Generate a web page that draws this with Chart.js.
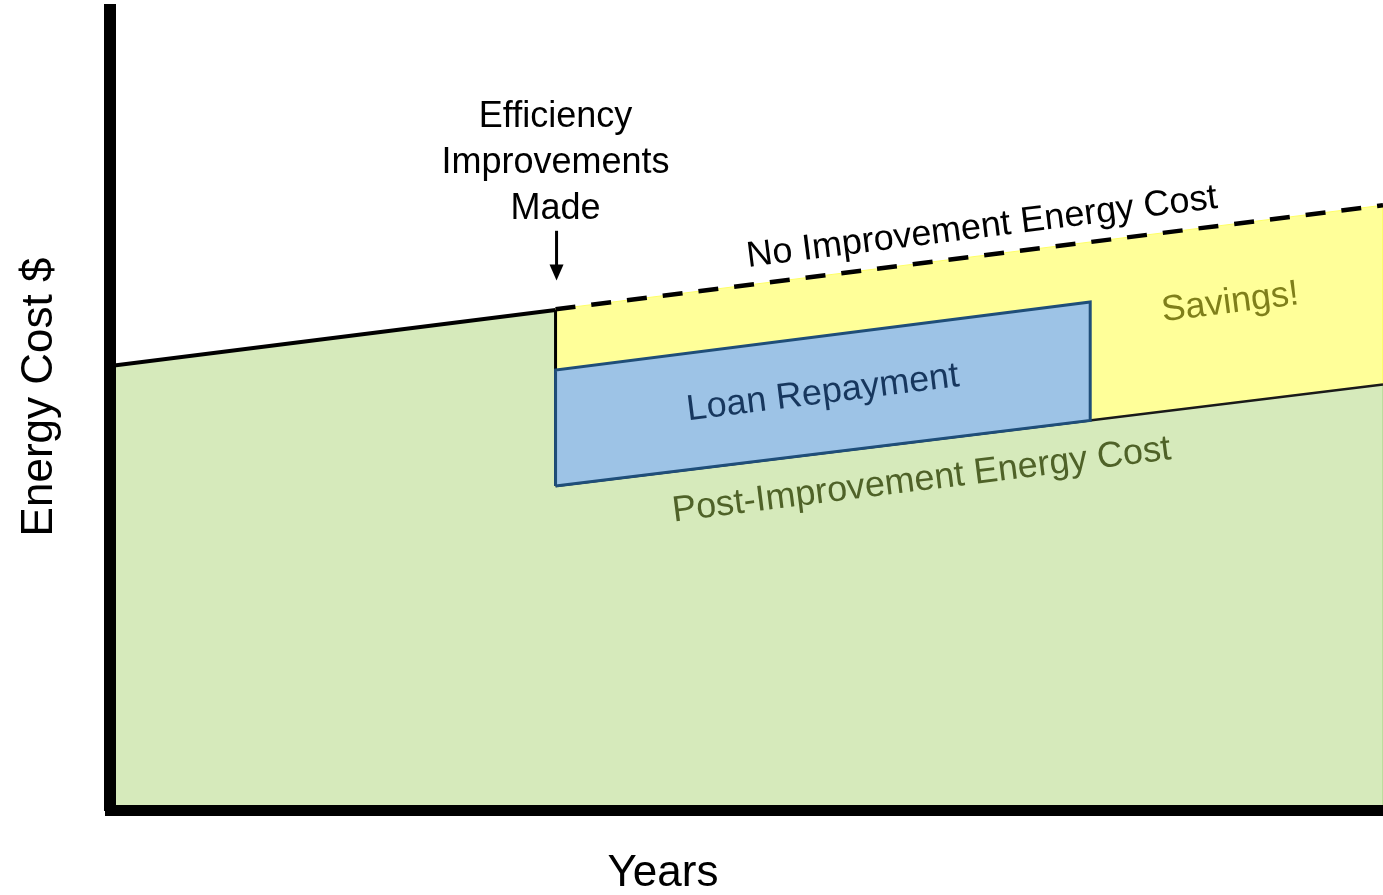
<!DOCTYPE html>
<html>
<head>
<meta charset="utf-8">
<script src="https://cdn.jsdelivr.net/npm/chart.js@4.4.1/dist/chart.umd.min.js"></script>
<style>
html, body { margin: 0; padding: 0; background: #fff; }
</style>
</head>
<body>
<canvas id="graph" width="1383" height="895"></canvas>
<script>
// Values (x = years, y = relative energy cost)
const yearsBefore = [0, 7];
const costBefore = [55.5, 62.5];
const yearsAfter = [7, 20];
const noImprovementCost = [62.6, 75.6];
const postImprovementCost = [40.5, 53.2];
const loanYears = [7, 15.4];
const loanTop = [55, 63.5];
const loanBottom = [40.5, 48.7];

// Text notes placed in data units
const notes = [
    { text: 'Efficiency', x: 7, y: 86.6, color: '#000', tilt: false },
    { text: 'Improvements', x: 7, y: 80.9, color: '#000', tilt: false },
    { text: 'Made', x: 7, y: 75.1, color: '#000', tilt: false },
    { text: 'No Improvement Energy Cost', x: 13.7, y: 72.8, color: '#000', tilt: true },
    { text: 'Loan Repayment', x: 11.2, y: 52.1, color: '#17375e', tilt: true },
    { text: 'Savings!', x: 17.6, y: 63.4, color: '#7f7f1a', tilt: true },
    { text: 'Post-Improvement Energy Cost', x: 12.75, y: 41.2, color: '#4f6228', tilt: true }
];

const pt = (x, y) => ({ x: x, y: y });

// Polygons built from the arrays above
const greenShape = [
    pt(yearsBefore[0], 0),
    pt(yearsBefore[0], costBefore[0]),
    pt(yearsBefore[1], costBefore[1]),
    pt(yearsAfter[0], postImprovementCost[0]),
    pt(yearsAfter[1], postImprovementCost[1]),
    pt(yearsAfter[1], 0),
    pt(yearsBefore[0], 0)
];
const yellowShape = [
    pt(yearsAfter[0], noImprovementCost[0]),
    pt(yearsAfter[1], noImprovementCost[1]),
    pt(yearsAfter[1], postImprovementCost[1]),
    pt(yearsAfter[0], postImprovementCost[0]),
    pt(yearsAfter[0], noImprovementCost[0])
];
const loanShape = [
    pt(loanYears[0], loanBottom[0]),
    pt(loanYears[0], loanTop[0]),
    pt(loanYears[1], loanTop[1]),
    pt(loanYears[1], loanBottom[1]),
    pt(loanYears[0], loanBottom[0])
];

const font = '"Liberation Sans", Arial, sans-serif';

const annotate = {
    id: 'annotate',
    afterDatasetsDraw(chart) {
        const { ctx, scales: { x, y } } = chart;
        const ang = Math.atan2(
            y.getPixelForValue(noImprovementCost[1]) - y.getPixelForValue(noImprovementCost[0]),
            x.getPixelForValue(yearsAfter[1]) - x.getPixelForValue(yearsAfter[0])
        );
        ctx.save();
        ctx.textAlign = 'center';
        ctx.textBaseline = 'middle';
        ctx.font = '36px ' + font;
        notes.forEach(n => {
            ctx.save();
            ctx.translate(x.getPixelForValue(n.x), y.getPixelForValue(n.y));
            if (n.tilt) ctx.rotate(ang);
            ctx.fillStyle = n.color;
            ctx.fillText(n.text, 0, 0);
            ctx.restore();
        });

        // arrow pointing at the improvement year
        const ax = x.getPixelForValue(yearsBefore[1]) + 1;
        const ay1 = y.getPixelForValue(72.4);
        const ay2 = y.getPixelForValue(66.2);
        ctx.strokeStyle = '#000';
        ctx.fillStyle = '#000';
        ctx.lineWidth = 3;
        ctx.beginPath();
        ctx.moveTo(ax, ay1);
        ctx.lineTo(ax, ay2 - 12);
        ctx.stroke();
        ctx.beginPath();
        ctx.moveTo(ax - 7, ay2 - 16);
        ctx.lineTo(ax + 7, ay2 - 16);
        ctx.lineTo(ax, ay2);
        ctx.closePath();
        ctx.fill();

        // axis titles
        ctx.font = '44px ' + font;
        ctx.fillText('Years', 663, 874);
        ctx.save();
        ctx.translate(40, 397);
        ctx.rotate(-Math.PI / 2);
        ctx.fillText('Energy Cost $', 0, 0);
        ctx.restore();
        ctx.restore();
    }
};

const ctx = document.getElementById('graph').getContext('2d');
const costChart = new Chart(ctx, {
    type: 'line',
    data: {
        datasets: [
            {   // no improvement (dashed)
                data: yearsAfter.map((v, i) => pt(v, noImprovementCost[i])),
                borderColor: '#000',
                borderWidth: 4.5,
                borderDash: [20, 16],
                fill: false,
                order: 1
            },
            {   // cost before the improvements
                data: yearsBefore.map((v, i) => pt(v, costBefore[i])),
                borderColor: '#000',
                borderWidth: 4,
                fill: false,
                order: 1
            },
            {   // drop at the improvement year
                data: [pt(yearsBefore[1], costBefore[1]), pt(yearsAfter[0], postImprovementCost[0])],
                borderColor: '#000',
                borderWidth: 3,
                fill: false,
                order: 2
            },
            {   // loan repayment box
                data: loanShape,
                borderColor: '#1f4e79',
                backgroundColor: '#9dc3e6',
                borderWidth: 3,
                fill: 'shape',
                order: 1
            },
            {   // post-improvement cost line
                data: yearsAfter.map((v, i) => pt(v, postImprovementCost[i])),
                borderColor: '#1a1a1a',
                borderWidth: 2.5,
                fill: false,
                order: 3
            },
            {   // savings
                data: yellowShape,
                borderColor: '#ffff66',
                backgroundColor: '#ffff99',
                borderWidth: 1,
                fill: 'shape',
                order: 4
            },
            {   // energy cost area
                data: greenShape,
                borderColor: '#b9dc98',
                backgroundColor: '#d6eabb',
                borderWidth: 1,
                fill: 'shape',
                order: 5
            }
        ]
    },
    options: {
        responsive: false,
        animation: false,
        layout: { padding: { left: 110, right: 0, top: 10, bottom: 85 } },
        elements: {
            point: { radius: 0, hoverRadius: 0 },
            line: { tension: 0, borderCapStyle: 'butt', borderJoinStyle: 'miter' }
        },
        scales: {
            x: {
                type: 'linear',
                min: 0,
                max: 20,
                grid: { display: false, drawTicks: false, tickLength: 0 },
                ticks: { display: false },
                border: { display: true, color: '#000', width: 11, z: 1 }
            },
            y: {
                min: 0,
                max: 100,
                grid: { display: false, drawTicks: false, tickLength: 0 },
                ticks: { display: false },
                border: { display: true, color: '#000', width: 12, z: 1 }
            }
        },
        plugins: {
            legend: { display: false },
            tooltip: { enabled: false }
        }
    },
    plugins: [annotate]
});
</script>
</body>
</html>
